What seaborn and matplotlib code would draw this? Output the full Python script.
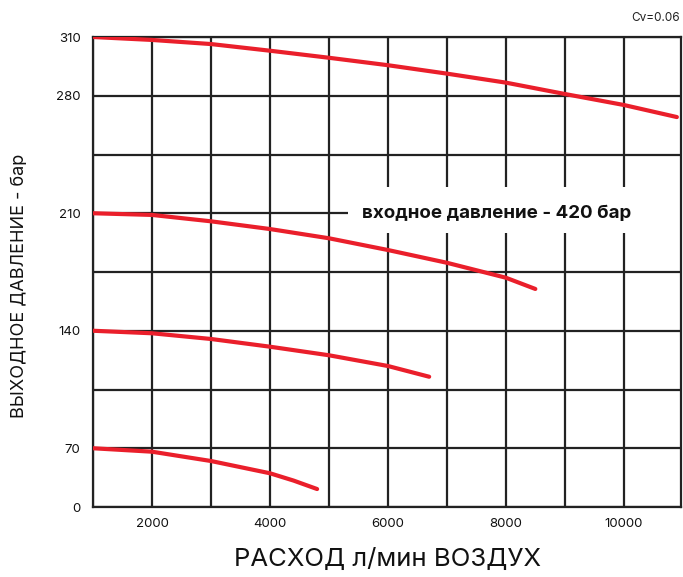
import numpy as np
import pandas as pd
import seaborn as sns
import matplotlib.pyplot as plt
from matplotlib.patches import Rectangle

# flow (l/min air) and outlet pressure (bar), one curve per set pressure
flow_310 = [1000, 2000, 3000, 4000, 5000, 6000, 7000, 8000, 9000, 10000, 10900]
press_310 = [310, 308.5, 306.4, 303.0, 299.4, 295.6, 291.3, 286.7, 280.9, 274.5, 267.3]

flow_210 = [1000, 2000, 3000, 4000, 5000, 6000, 7000, 8000, 8500]
press_210 = [210, 209, 205.2, 200.6, 195.1, 188.1, 180.5, 171.6, 164.9]

flow_140 = [1000, 2000, 3000, 4000, 5000, 6000, 6700]
press_140 = [140, 138.5, 135.1, 130.5, 125.4, 119.0, 112.6]

flow_70 = [1000, 2000, 3000, 4000, 4400, 4800]
press_70 = [70, 65.9, 54.8, 40.2, 31.5, 21.4]

x_ticks = [2000, 4000, 6000, 8000, 10000]
y_ticks = [0, 70, 140, 210, 280, 310]
y_minor = [105, 175, 245]

# the pressure axis of the original is not linear: one cell per 70, 35, 30 bar
scale_bar = [0, 70, 280, 310]
scale_pos = [0, 1, 7, 8]

def fwd(v):
    return np.interp(v, scale_bar, scale_pos)

def inv(v):
    return np.interp(v, scale_pos, scale_bar)

curves = [(flow_310, press_310), (flow_210, press_210),
          (flow_140, press_140), (flow_70, press_70)]
df = pd.concat([pd.DataFrame({"flow": f, "pressure": p, "curve": i})
                for i, (f, p) in enumerate(curves)])

sns.set_style("white")
plt.rcParams['font.family'] = ['Inter', 'DejaVu Sans']

fig = plt.figure(figsize=(6.83, 5.77), dpi=100)
ax = fig.add_axes([93 / 683, 70 / 577, 588 / 683, 470 / 577])

red = "#ea1f2b"
for i, g in df.groupby("curve"):
    sns.lineplot(data=g, x="flow", y="pressure", color=red, linewidth=3,
                 sort=False, ax=ax, zorder=4, solid_capstyle="round")

ax.set_yscale("function", functions=(fwd, inv))
ax.set_xlim(1000, 10970)
ax.set_ylim(0, 310)
ax.set_xticks(np.arange(1000, 11000, 1000), minor=True)
ax.set_xticks(x_ticks)
ax.set_yticks(y_ticks)
ax.set_yticks(y_minor, minor=True)
ax.set_yticklabels([str(t) for t in y_ticks])
ax.set_xticklabels([str(t) for t in x_ticks])
ax.grid(True, which="both", color="#222222", linewidth=1.6, zorder=1)
ax.set_axisbelow(True)
ax.tick_params(which="both", length=0, labelsize=9.5, colors="#111111")
ax.tick_params(axis="x", pad=8)
ax.tick_params(axis="y", pad=9)

for s in ax.spines.values():
    s.set_color("#222222")
    s.set_linewidth(1.6)

ax.set_xlabel("РАСХОД л/мин ВОЗДУХ", fontsize=18.5, color="#111111")
ax.xaxis.set_label_coords(0.5, -0.088)
ax.set_ylabel("ВЫХОДНОЕ ДАВЛЕНИЕ - бар", fontsize=13, color="#111111")
ax.yaxis.set_label_coords(-0.11, 0.47)

# white panel behind the inlet pressure note
ax.add_patch(Rectangle((0.434, 0.583), 0.566, 0.098, transform=ax.transAxes,
                       facecolor="white", edgecolor="none", zorder=2))
ax.text(7850, 210, "входное давление - 420 бар", fontsize=13.5, fontweight="bold",
        ha="center", va="center", color="#111111", zorder=3)

fig.text(0.996, 0.968, "Cv=0.06", fontsize=8.5, ha="right", va="center", color="#222222")

fig.savefig("out.png", dpi=100)
plt.close()
